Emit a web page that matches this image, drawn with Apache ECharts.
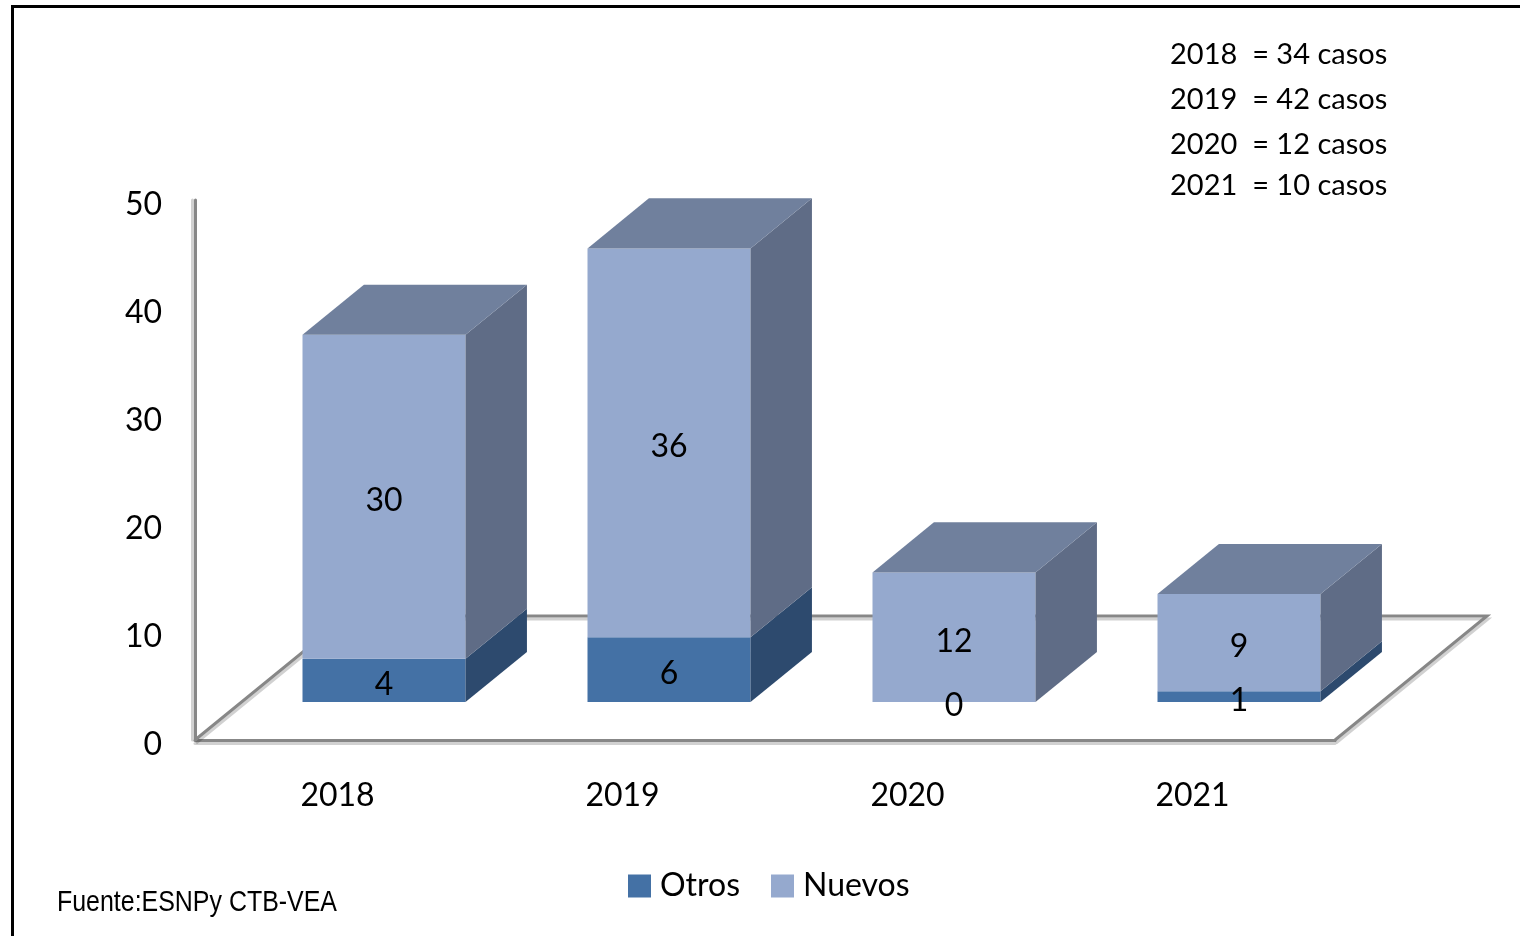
<!DOCTYPE html>
<html>
<head>
<meta charset="utf-8">
<title>Casos por año</title>
<script src="https://cdn.jsdelivr.net/npm/echarts@6/dist/echarts.min.js"></script>
<style>
  html, body { margin: 0; padding: 0; background: #ffffff; }
  #chart { width: 1520px; height: 936px; }
</style>
</head>
<body>
<div id="chart"></div>
<script>
// Data
const years = ['2018', '2019', '2020', '2021'];
const otros = [4, 6, 0, 1];
const nuevos = [30, 36, 12, 9];
const seriesNames = ['Otros', 'Nuevos'];

// Oblique projection of the floor depth (pixels for the full floor depth)
const DEPTH_X = 152;
const DEPTH_Y = -124;
// Bars sit between these fractions of the floor depth
const FRONT_Z = 0.306;
const BACK_Z = 0.71;
const BAR_RATIO = 0.572;

const FONT = 'Lato, "Open Sans", sans-serif';
const AXIS_GRAY = '#878787';

const colors = {
  Otros:  { front: '#4471A5', side: '#2D4A6E', top: '#3A5F8C' },
  Nuevos: { front: '#95A9CE', side: '#5F6C86', top: '#70809D' }
};

function boxRenderer(name, drawTop) {
  const c = colors[name];
  return function (params, api) {
    const i = api.value(0);
    const lo = api.value(1);
    const hi = api.value(2);
    const val = api.value(3);
    const band = api.size([1, 0])[0];
    const half = band * BAR_RATIO / 2;
    const pLo = api.coord([i, lo]);
    const pHi = api.coord([i, hi]);
    const fx = FRONT_Z * DEPTH_X, fy = FRONT_Z * DEPTH_Y;
    const ddx = (BACK_Z - FRONT_Z) * DEPTH_X, ddy = (BACK_Z - FRONT_Z) * DEPTH_Y;
    const xl = pLo[0] - half + fx, xr = pLo[0] + half + fx;
    const yb = pLo[1] + fy, yt = pHi[1] + fy;
    const children = [];
    if (yb - yt > 0.1) {
      children.push({
        type: 'rect', z2: 1,
        shape: { x: xl, y: yt, width: xr - xl, height: yb - yt },
        style: { fill: c.front }
      });
      children.push({
        type: 'polygon', z2: 1,
        shape: { points: [[xr, yb], [xr, yt], [xr + ddx, yt + ddy], [xr + ddx, yb + ddy]] },
        style: { fill: c.side }
      });
      if (drawTop) {
        children.push({
          type: 'polygon', z2: 1,
          shape: { points: [[xl, yt], [xr, yt], [xr + ddx, yt + ddy], [xl + ddx, yt + ddy]] },
          style: { fill: c.top }
        });
      }
    }
    children.push({
      type: 'text', z2: 50,
      style: {
        x: (xl + xr) / 2, y: (yb + yt) / 2 + 4,
        text: String(val),
        fill: '#000000',
        font: '32px ' + FONT,
        align: 'center', verticalAlign: 'middle'
      }
    });
    return { type: 'group', children: children };
  };
}

function floorRenderer(params, api) {
  const cs = params.coordSys;
  const x0 = cs.x, x1 = cs.x + cs.width, y0 = cs.y + cs.height;
  return {
    type: 'polyline',
    shape: { points: [[x0, y0], [x0 + DEPTH_X, y0 + DEPTH_Y], [x1 + DEPTH_X, y0 + DEPTH_Y], [x1, y0]] },
    style: {
      stroke: AXIS_GRAY, lineWidth: 3, fill: null,
      shadowColor: 'rgba(0,0,0,0.18)', shadowOffsetY: 3, shadowOffsetX: 1, shadowBlur: 0
    }
  };
}

const otrosData = years.map((y, i) => [i, 0, otros[i], otros[i]]);
const nuevosData = years.map((y, i) => [i, otros[i], otros[i] + nuevos[i], nuevos[i]]);
const totals = years.map((y, i) => otros[i] + nuevos[i]);

const NOTE_Y = [54, 99, 144, 185];
const noteTexts = years.map((y, i) => ({
  type: 'text',
  left: 1170,
  top: NOTE_Y[i] - 14,
  style: {
    text: y + '  = ' + totals[i] + ' casos',
    font: '29px ' + FONT,
    fill: '#000000'
  }
}));

const chart = echarts.init(document.getElementById('chart'));
chart.setOption({
  animation: false,
  backgroundColor: '#ffffff',
  grid: { left: 195, right: 185, top: 200, bottom: 196 },
  xAxis: {
    type: 'category',
    data: years,
    axisLine: { show: true, lineStyle: { color: AXIS_GRAY, width: 3, shadowColor: 'rgba(0,0,0,0.18)', shadowOffsetY: 3 } },
    axisTick: { show: false },
    axisLabel: { color: '#000000', fontSize: 32, fontFamily: FONT, margin: 40 },
    splitLine: { show: false }
  },
  yAxis: {
    type: 'value',
    min: 0, max: 50, interval: 10,
    axisLine: { show: true, lineStyle: { color: AXIS_GRAY, width: 3, shadowColor: 'rgba(0,0,0,0.18)', shadowOffsetX: -3 } },
    axisTick: { show: false },
    axisLabel: {
      color: '#000000', fontSize: 32, fontFamily: FONT, margin: 33,
      verticalAlign: 'top', lineHeight: 10
    },
    splitLine: { show: false }
  },
  legend: {
    data: seriesNames,
    left: 628, top: 870,
    padding: 0,
    icon: 'rect',
    itemWidth: 23, itemHeight: 23,
    itemGap: 31,
    textStyle: { color: '#000000', fontSize: 32, fontFamily: FONT, padding: [0, 0, 0, 4] }
  },
  graphic: [
    {
      type: 'rect', left: 10, top: 4, silent: true,
      shape: { width: 1540, height: 960 },
      style: { fill: null, stroke: '#000000', lineWidth: 3 }
    },
    {
      type: 'text', x: 57, y: 888, scaleX: 0.86,
      style: {
        text: 'Fuente:ESNPy CTB-VEA',
        font: '29px "Liberation Sans Narrow", "Liberation Sans", sans-serif',
        fill: '#000000'
      }
    }
  ].concat(noteTexts),
  series: [
    {
      type: 'custom', name: 'floor', silent: true, z: 1,
      renderItem: floorRenderer,
      data: [[0, 0]],
      encode: { x: 0, y: 1 }
    },
    {
      type: 'custom', name: 'Otros', z: 2,
      itemStyle: { color: colors.Otros.front },
      renderItem: boxRenderer('Otros', false),
      data: otrosData,
      encode: { x: 0, y: [1, 2] }
    },
    {
      type: 'custom', name: 'Nuevos', z: 2,
      itemStyle: { color: colors.Nuevos.front },
      renderItem: boxRenderer('Nuevos', true),
      data: nuevosData,
      encode: { x: 0, y: [1, 2] }
    }
  ]
});
</script>
</body>
</html>
